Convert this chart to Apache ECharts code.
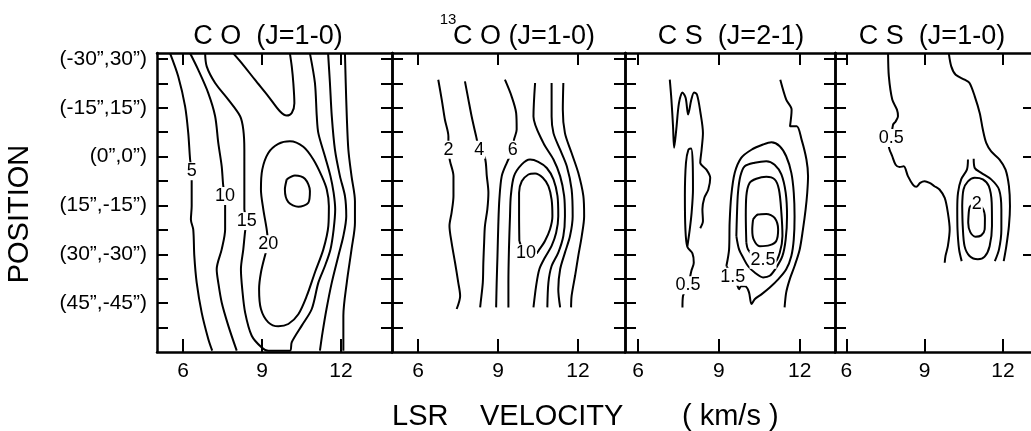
<!DOCTYPE html>
<html>
<head>
<meta charset="utf-8">
<script src="https://cdn.jsdelivr.net/npm/echarts@6.0.0/dist/echarts.min.js"></script>
<style>
  html, body { margin: 0; padding: 0; background: #fff; }
  #chart { width: 1031px; height: 431px; }
</style>
</head>
<body>
<div id="chart"></div>
<script>
// tick values
var velocityTicks = [6, 9, 12]
var positionTicks = [-30, -22.5, -15, -7.5, 0, 7.5, 15, 22.5, 30, 37.5, 45, 52.5]
var positionLabelValues = [-30, -15, 0, 15, 30, 45]
var positionLabelTexts = ['(-30”,30”)', '(-15”,15”)', '(0”,0”)', '(15”,-15”)', '(30”,-30”)', '(45”,-45”)']
var rightTicksLast = [-15, 0, 15, 30]

// CO (J=1-0) contours, [velocity km/s, position offset]
var co5 = [[5.51,-31.7],[5.82,-24.6],[6.08,-15.4],[6.2,-7.2],[6.27,0.9],[6.33,4.5],[6.33,8.1],[6.33,15.2],[6.3,19.3],[6.39,22.4],[6.43,30.5],[6.52,38.7],[6.71,47.9],[6.96,56.0],[7.11,59.6]]
var co10 = [[6.27,-31.7],[6.58,-26.6],[6.96,-19.5],[7.22,-12.4],[7.34,-4.2],[7.47,3.0],[7.53,9.1],[7.6,12.1],[7.6,15.2],[7.6,22.4],[7.47,28.5],[7.28,34.6],[7.34,38.7],[7.47,44.8],[7.72,51.9],[8.04,59.6]]
var co15 = [[6.84,-31.7],[6.9,-27.7],[7.22,-22.6],[7.72,-17.5],[8.17,-12.4],[8.29,-8.3],[8.33,-2.1],[8.33,8.1],[8.33,16.2],[8.42,19.8],[8.36,22.9],[8.29,28.5],[8.2,34.6],[8.25,40.7],[8.36,47.9],[8.61,55.0],[8.99,58.6],[9.24,59.6],[10.06,59.6],[10.13,57.0],[10.51,51.9],[10.89,46.8],[11.14,38.7],[11.39,33.6],[11.6,28.5],[11.72,22.4],[11.78,16.2],[11.72,11.1],[11.6,6.0],[11.39,-0.1],[11.14,-7.2],[11.08,-12.4],[11.01,-22.6],[10.82,-31.7]]
var co10r = [[11.51,-31.7],[11.58,-22.6],[11.65,-12.4],[11.77,-2.1],[11.96,6.0],[12.15,12.1],[12.2,18.3],[12.09,24.4],[11.9,30.5],[11.65,38.7],[11.45,46.8],[11.3,54.0],[11.2,59.6]]
var co5r = [[12.15,-31.7],[12.18,-22.6],[12.22,-12.4],[12.28,-2.1],[12.4,6.0],[12.53,13.7],[12.53,20.3],[12.4,28.5],[12.22,38.7],[12.09,48.9],[12.09,59.6]]
var co20top = [[7.91,-31.7],[8.23,-28.7],[8.73,-23.6],[9.24,-18.5],[9.68,-13.9],[9.94,-12.6],[10.13,-13.4],[10.23,-16.4],[10.19,-22.6],[10.13,-27.7],[10.06,-31.7]]
var co20 = [[9.24,26.9],[9.11,30.5],[8.96,35.6],[8.89,40.7],[8.96,46.8],[9.24,50.9],[9.62,52.1],[10.0,51.4],[10.38,48.4],[10.7,42.8],[11.01,35.6],[11.33,28.5],[11.52,21.3],[11.54,15.2],[11.46,10.1],[11.27,6.0],[10.95,0.9],[10.57,-3.0],[10.06,-4.7],[9.62,-3.9],[9.24,-1.1],[9.01,4.0],[8.96,10.1],[9.05,16.2],[9.18,22.4],[9.24,26.9]]
var co25 = [[9.94,7.0],[10.25,5.8],[10.63,6.8],[10.82,10.6],[10.76,14.2],[10.38,15.4],[10.0,14.0],[9.87,10.1],[9.94,7.0]]
var coLabels = [[6.33,4.5,'5'],[7.6,12.1,'10'],[8.42,19.8,'15'],[9.24,26.9,'20']]

// 13CO (J=1-0) contours
var c13co2 = [[6.76,-23.6],[6.89,-17.5],[7.01,-11.3],[7.14,-6.2],[7.14,-2.1],[7.2,1.4],[7.33,6.0],[7.33,12.1],[7.26,17.2],[7.18,21.3],[7.26,26.4],[7.39,32.6],[7.51,38.7],[7.58,42.8],[7.45,46.8]]
var c13co4 = [[7.76,-23.1],[7.89,-17.5],[8.01,-12.4],[8.18,-6.2],[8.3,-2.1],[8.51,0.4],[8.58,6.0],[8.64,11.1],[8.6,16.2],[8.51,21.3],[8.48,26.4],[8.45,32.6],[8.43,38.7],[8.35,44.8],[8.33,46.3]]
var c13co6 = [[9.26,-23.6],[9.51,-18.5],[9.68,-13.4],[9.7,-8.3],[9.6,-5.2],[9.55,-2.1],[9.33,1.9],[9.14,6.0],[9.05,13.2],[9.01,21.3],[8.98,30.5],[8.95,38.7],[8.93,46.3]]
var c13co8 = [[9.39,46.3],[9.39,38.7],[9.41,28.5],[9.45,18.3],[9.48,12.1],[9.6,6.0],[9.89,2.4],[10.2,0.9],[10.51,1.6],[10.83,3.5],[11.08,7.0],[11.23,12.1],[11.26,18.3],[11.18,23.4],[11.01,27.4],[10.76,31.0],[10.55,34.6],[10.43,39.7],[10.33,46.3]]
var c13co10 = [[9.8,25.9],[9.79,18.3],[9.79,11.1],[9.89,7.6],[10.14,5.5],[10.39,5.2],[10.68,6.5],[10.89,9.1],[11.01,13.2],[11.04,18.3],[10.95,22.3],[10.76,25.9],[10.55,28.5],[10.43,29.7],[10.05,29.7],[9.8,25.9]]
var c13co6r = [[10.39,-22.6],[10.33,-12.3],[10.7,-4.2],[11.08,0.9],[11.33,6.0],[11.48,12.1],[11.51,18.3],[11.45,24.4],[11.26,29.5],[11.01,33.6],[10.89,38.7],[10.85,46.3]]
var c13co4r = [[11.01,-22.6],[11.01,-12.3],[11.08,-7.2],[11.33,-2.1],[11.58,3.0],[11.76,10.1],[11.8,18.3],[11.7,24.4],[11.51,29.5],[11.33,34.6],[11.26,40.7],[11.33,46.3]]
var c13co2r = [[11.45,-22.6],[11.43,-14.4],[11.51,-7.2],[11.76,-1.1],[12.01,5.0],[12.2,12.1],[12.23,18.3],[12.14,24.4],[12.01,30.5],[11.89,36.6],[11.76,42.8],[11.74,46.3]]
var c13coLabels = [[7.14,-2.1,'2'],[8.3,-2.1,'4'],[9.55,-2.1,'6'],[10.05,29.7,'10']]

// CS (J=2-1) contours
var cs21a = [[7.18,-23.6],[7.24,-17.5],[7.3,-9.3],[7.34,-2.7],[7.42,-8.3],[7.52,-16.4],[7.65,-19.7],[7.77,-18.0],[7.86,-12.9],[7.98,-17.5],[8.08,-19.7],[8.19,-19.0],[8.31,-13.9],[8.41,-7.2],[8.36,-2.1],[8.31,1.9],[8.54,4.0],[8.68,6.5],[8.61,10.1],[8.46,12.7],[8.39,16.2],[8.41,19.8],[8.31,22.0]]
var cs21b = [[7.65,46.3],[7.67,42.8],[7.86,39.5],[7.98,35.1],[8.07,32.6],[8.02,29.7],[7.83,27.7],[7.76,22.4],[7.74,12.1],[7.78,1.9],[7.87,-2.1],[7.97,-2.5],[8.03,1.9],[8.04,10.1],[7.99,17.2],[7.92,22.4],[7.83,27.7]]
var cs21r = [[11.28,-23.6],[11.5,-17.5],[11.7,-14.4],[11.64,-9.3],[11.89,-9.3],[12.07,-5.2],[12.25,0.9],[12.31,6.0],[12.28,11.1],[12.22,16.2],[12.12,22.4],[12.0,28.5],[11.81,33.6],[11.63,37.7],[11.5,41.7],[11.44,46.3]]
var cs21c15 = [[9.28,33.6],[9.38,28.5],[9.4,20.3],[9.46,12.1],[9.59,5.0],[9.83,0.4],[10.21,-2.1],[10.64,-3.7],[10.95,-4.4],[11.26,-3.2],[11.5,-0.1],[11.69,5.0],[11.78,11.1],[11.81,18.3],[11.78,25.4],[11.69,30.5],[11.5,34.6],[11.2,37.7],[10.89,40.2],[10.58,42.3],[10.33,43.8],[10.21,45.3],[10.12,41.7],[10.0,39.9],[9.83,39.7],[9.75,40.7],[9.67,39.2],[9.52,36.9],[9.28,33.6]]
var cs21c20 = [[9.65,24.4],[9.67,18.3],[9.71,11.1],[9.8,6.0],[9.96,3.0],[10.33,1.9],[10.76,1.4],[11.07,2.5],[11.32,5.5],[11.48,11.1],[11.53,18.3],[11.48,25.4],[11.36,30.5],[11.13,34.1],[10.89,36.6],[10.64,37.1],[10.33,35.6],[10.08,33.6],[9.9,31.0],[9.75,28.5],[9.65,24.4]]
var cs21c25 = [[10.02,26.4],[10.0,18.3],[10.02,12.1],[10.14,8.1],[10.39,6.8],[10.76,6.2],[11.07,7.0],[11.23,10.1],[11.32,17.2],[11.36,24.4],[11.26,29.5],[11.07,32.6],[10.76,33.2],[10.45,32.0],[10.27,30.5],[10.08,28.5],[10.02,26.4]]
var cs21c30 = [[10.27,19.3],[10.45,17.8],[10.76,17.6],[11.07,18.8],[11.2,22.4],[11.13,25.9],[10.89,27.2],[10.52,27.5],[10.29,25.4],[10.24,22.4],[10.27,19.3]]
var cs21Labels = [[7.86,39.5,'0.5'],[9.52,36.9,'1.5'],[10.64,31.7,'2.5']]

// CS (J=1-0) contours
var cs10a = [[7.6,-31.5],[7.63,-24.6],[7.76,-17.5],[7.94,-14.4],[7.98,-12.4],[7.89,-10.8],[7.79,-9.8],[7.72,-5.7],[7.63,-3.2],[7.76,-0.1],[7.89,2.5],[8.04,3.2],[8.2,3.0],[8.36,6.0],[8.55,8.6],[8.68,9.3],[8.83,8.1],[9.0,7.6],[9.19,8.1],[9.38,9.1],[9.57,10.1],[9.77,12.7],[9.89,17.2],[9.96,22.4],[9.89,27.5],[9.8,30.5],[9.77,32.6]]
var cs10r = [[9.93,-31.5],[10.02,-27.7],[10.19,-25.1],[10.53,-23.6],[10.72,-22.6],[10.92,-18.5],[11.11,-13.4],[11.23,-8.3],[11.36,-4.2],[11.55,-1.6],[11.87,0.9],[12.1,4.0],[12.23,9.1],[12.27,15.2],[12.23,21.3],[12.13,27.5],[12.03,32.1]]
var cs10c1l = [[10.66,0.9],[10.62,4.0],[10.4,7.0],[10.28,11.1],[10.25,16.2],[10.26,22.4],[10.32,28.5],[10.42,32.1]]
var cs10c1r = [[10.88,0.7],[10.92,3.5],[11.17,5.0],[11.55,7.0],[11.85,10.1],[11.94,16.2],[11.94,22.4],[11.85,28.5],[11.69,32.1]]
var cs10c15 = [[10.44,15.2],[10.49,10.1],[10.66,7.6],[10.92,6.5],[11.23,7.0],[11.46,9.1],[11.57,14.2],[11.58,21.3],[11.49,27.5],[11.3,30.7],[11.04,31.5],[10.72,30.5],[10.53,27.5],[10.46,21.3],[10.44,15.2]]
var cs10c2 = [[10.69,17.2],[10.75,15.2],[10.98,14.7],[11.21,15.7],[11.31,18.8],[11.3,22.4],[11.17,24.2],[10.95,24.6],[10.75,23.2],[10.67,20.3],[10.69,17.2]]
var cs10Labels = [[7.72,-5.7,'0.5'],[11.0,14.5,'2']]

var FONT = 'Liberation Sans'

// panels: layout + which contours go in each
var panels = [
  { left: 157, width: 235, xMin: 5.013, xMax: 13.937, lines: [co5, co10, co15, co10r, co5r, co20top, co20, co25], labels: coLabels },
  { left: 392, width: 233, xMin: 5.025, xMax: 13.762, lines: [c13co2, c13co4, c13co6, c13co8, c13co10, c13co6r, c13co4r, c13co2r], labels: c13coLabels },
  { left: 625, width: 210, xMin: 5.518, xMax: 13.31, lines: [cs21a, cs21b, cs21r, cs21c15, cs21c20, cs21c25, cs21c30], labels: cs21Labels },
  { left: 835, width: 199, xMin: 5.567, xMax: 13.19, lines: [cs10a, cs10r, cs10c1l, cs10c1r, cs10c15, cs10c2], labels: cs10Labels }
]

var chart = echarts.init(document.getElementById('chart'), null, { renderer: 'canvas' })

var axisLineStyle = { color: '#000', width: 2.5 }
var tickStyle = { color: '#000', width: 2 }

var grid = [], xAxis = [], yAxis = [], series = []
panels.forEach(function (p, i) {
  grid.push({ left: p.left, top: 53, width: p.width, height: 299, outerBoundsMode: 'none', containLabel: false })
  // bottom velocity axis
  xAxis.push({
    type: 'value', gridIndex: i, position: 'bottom', min: p.xMin, max: p.xMax,
    axisLine: { onZero: false, lineStyle: axisLineStyle },
    axisTick: { inside: true, length: 13, customValues: velocityTicks, lineStyle: tickStyle },
    axisLabel: { customValues: velocityTicks, fontSize: 21, fontFamily: FONT, color: '#000', margin: 9 },
    splitLine: { show: false }
  })
  // top frame
  xAxis.push({
    type: 'value', gridIndex: i, position: 'top', min: p.xMin, max: p.xMax,
    axisLine: { onZero: false, lineStyle: axisLineStyle },
    axisTick: { inside: true, length: 12, customValues: velocityTicks, lineStyle: tickStyle },
    axisLabel: { show: false },
    splitLine: { show: false }
  })
  // left position axis
  yAxis.push({
    type: 'value', gridIndex: i, position: 'left', inverse: true, min: -31.8, max: 60,
    axisLine: { onZero: false, lineStyle: axisLineStyle },
    axisTick: { inside: true, length: 11, customValues: positionTicks, lineStyle: tickStyle },
    axisLabel: i === 0 ? {
      customValues: positionLabelValues, fontSize: 21, fontFamily: FONT, color: '#000', margin: 10,
      formatter: function (v) { return positionLabelTexts[positionLabelValues.indexOf(v)] }
    } : { show: false },
    splitLine: { show: false }
  })
  // right frame
  yAxis.push({
    type: 'value', gridIndex: i, position: 'right', inverse: true, min: -31.8, max: 60,
    axisLine: { onZero: false, lineStyle: axisLineStyle },
    axisTick: { inside: true, length: 11, customValues: i === 3 ? rightTicksLast : positionTicks, lineStyle: tickStyle },
    axisLabel: { show: false },
    splitLine: { show: false }
  })
  p.lines.forEach(function (d) {
    series.push({
      type: 'line', xAxisIndex: 2 * i, yAxisIndex: 2 * i, data: d,
      showSymbol: false, symbol: 'none', smooth: 0.3, z: 2,
      lineStyle: { color: '#000', width: 2 }, silent: true
    })
  })
  series.push({
    type: 'scatter', xAxisIndex: 2 * i, yAxisIndex: 2 * i, z: 10, silent: true,
    symbolSize: 1, itemStyle: { color: '#fff', opacity: 1 },
    data: p.labels.map(function (l) { return { value: [l[0], l[1]], name: l[2] } }),
    label: {
      show: true, position: 'inside', formatter: '{b}', color: '#000', opacity: 1,
      fontSize: 18, fontFamily: FONT, backgroundColor: '#fff', padding: [0, 1]
    }
  })
})

var titleFont = '27px "' + FONT + '"'
var option = {
  backgroundColor: '#fff',
  animation: false,
  grid: grid,
  xAxis: xAxis,
  yAxis: yAxis,
  series: series,
  graphic: [
    { type: 'text', x: 268, y: 37, style: { text: 'C O  (J=1-0)', font: titleFont, fill: '#000', align: 'center', verticalAlign: 'middle' } },
    { type: 'text', x: 448, y: 20, style: { text: '13', font: '15px "' + FONT + '"', fill: '#000', align: 'center', verticalAlign: 'middle' } },
    { type: 'text', x: 524, y: 37, style: { text: 'C O (J=1-0)', font: titleFont, fill: '#000', align: 'center', verticalAlign: 'middle' } },
    { type: 'text', x: 731, y: 37, style: { text: 'C S  (J=2-1)', font: titleFont, fill: '#000', align: 'center', verticalAlign: 'middle' } },
    { type: 'text', x: 932, y: 37, style: { text: 'C S  (J=1-0)', font: titleFont, fill: '#000', align: 'center', verticalAlign: 'middle' } },
    { type: 'text', x: 20, y: 214, rotation: Math.PI / 2, style: { text: 'POSITION', font: '29px "' + FONT + '"', fill: '#000', align: 'center', verticalAlign: 'middle' } },
    { type: 'text', x: 392, y: 417, style: { text: 'LSR', font: '29px "' + FONT + '"', fill: '#000', align: 'left', verticalAlign: 'middle' } },
    { type: 'text', x: 480, y: 417, style: { text: 'VELOCITY', font: '29px "' + FONT + '"', fill: '#000', align: 'left', verticalAlign: 'middle' } },
    { type: 'text', x: 682, y: 417, style: { text: '( km/s )', font: '29px "' + FONT + '"', fill: '#000', align: 'left', verticalAlign: 'middle' } }
  ]
}
chart.setOption(option)
</script>
</body>
</html>
